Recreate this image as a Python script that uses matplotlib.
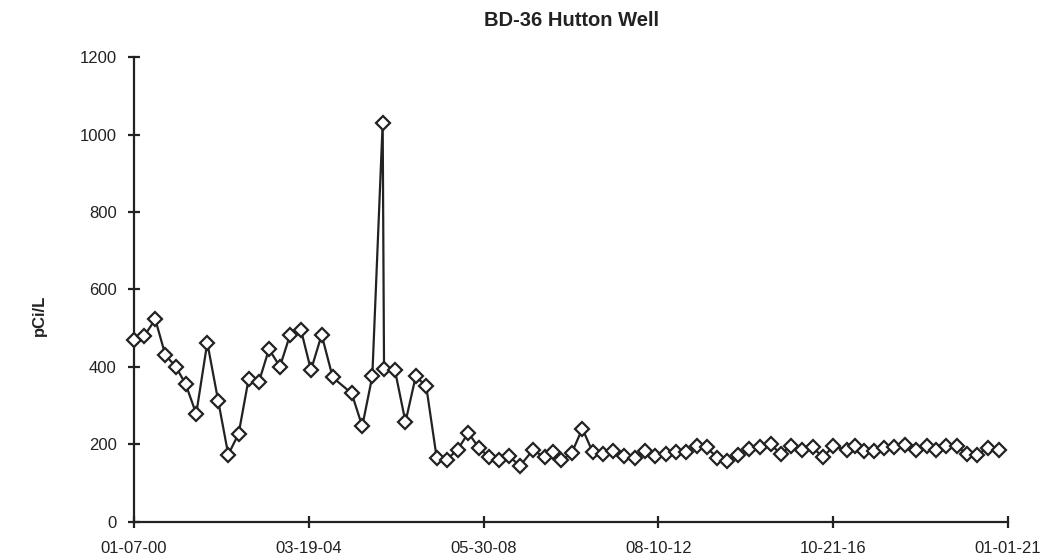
import numpy as np
import pandas as pd
import matplotlib
matplotlib.use("Agg")
import matplotlib.pyplot as plt
import matplotlib.dates as mdates

plt.rcParams['font.family'] = ['Liberation Sans', 'DejaVu Sans']

# sample dates and activity in pCi/L
dates = [
    "2000-01-07", "2000-04-06", "2000-07-12", "2000-10-08", "2001-01-07",
    "2001-04-04", "2001-07-06", "2001-10-11", "2002-01-15", "2002-04-13",
    "2002-07-13", "2002-10-09", "2003-01-07", "2003-04-05", "2003-07-10",
    "2003-10-06", "2004-01-11", "2004-04-07", "2004-07-10", "2004-10-15",
    "2005-03-30", "2005-07-01", "2005-09-27", "2005-12-27", "2006-01-08",
    "2006-04-14", "2006-07-15", "2006-10-13", "2007-01-13", "2007-04-15",
    "2007-07-11", "2007-10-16", "2008-01-17", "2008-04-20", "2008-07-19",
    "2008-10-15", "2009-01-10", "2009-04-14", "2009-08-04", "2009-11-20",
    "2010-01-26", "2010-04-09", "2010-07-12", "2010-10-13", "2011-01-12",
    "2011-04-15", "2011-07-12", "2011-10-13", "2012-01-15", "2012-04-12",
    "2012-07-11", "2012-10-13", "2013-01-11", "2013-04-09", "2013-07-12",
    "2013-10-07", "2014-01-09", "2014-04-06", "2014-07-07", "2014-10-16",
    "2015-01-18", "2015-04-22", "2015-07-18", "2015-10-14", "2016-01-19",
    "2016-04-24", "2016-07-21", "2016-10-22", "2017-02-16", "2017-04-30",
    "2017-07-18", "2017-10-14", "2018-01-10", "2018-04-07", "2018-07-13",
    "2018-10-15", "2019-01-19", "2019-04-11", "2019-07-07", "2019-10-09",
    "2020-01-05", "2020-04-07", "2020-07-07", "2020-10-12",
]
values = [
    469, 480, 523, 431, 401, 356, 279, 463, 312, 174,
    228, 370, 362, 446, 401, 482, 495, 392, 483, 373,
    332, 247, 376, 1030, 394, 391, 258, 376, 350, 165,
    161, 187, 230, 191, 167, 161, 169, 145, 185, 167,
    180, 159, 178, 241, 180, 176, 184, 171, 165, 182,
    171, 176, 180, 180, 195, 193, 165, 158, 172, 188,
    193, 200, 176, 195, 185, 193, 167, 195, 187, 195,
    182, 184, 191, 193, 199, 185, 197, 187, 197, 195,
    176, 174, 191, 187,
]

title = "BD-36 Hutton Well"
ylabel = "pCi/L"
x_start = "2000-01-07"
x_end = "2021-01-01"
tick_step_days = 1533

t = pd.to_datetime(dates)
x0 = pd.Timestamp(x_start)
x1 = pd.Timestamp(x_end)
xticks = [x0 + pd.Timedelta(days=tick_step_days * k) for k in range(6)]

fig = plt.figure(figsize=(10.54, 5.6), dpi=100)
ax = fig.add_axes([0.1271, 0.0679, 0.8293, 0.8303])

ax.plot(t, values, color="#222222", lw=1.6, marker="D", ms=7.5,
        mfc="white", mec="#222222", mew=1.6, clip_on=False, zorder=3)

ax.set_xlim(x0, x1)
ax.set_ylim(0, 1200)
ax.set_yticks(np.arange(0, 1201, 200))
ax.set_xticks(xticks)
ax.xaxis.set_major_formatter(mdates.DateFormatter("%m-%d-%y"))

for s in ["top", "right"]:
    ax.spines[s].set_visible(False)
for s in ["left", "bottom"]:
    ax.spines[s].set_linewidth(1.6)
    ax.spines[s].set_color("#222222")

ax.tick_params(direction="inout", length=9, width=1.6, color="#222222",
               labelsize=12, labelcolor="#222222")
ax.tick_params(axis="x", pad=9)
ax.tick_params(axis="y", pad=8)

ax.set_title(title, fontsize=14.5, fontweight="bold", color="#222222", pad=22)
ax.set_ylabel(ylabel, fontsize=12, fontweight="bold", color="#222222")
ax.yaxis.set_label_coords(-0.1, 0.445)

fig.savefig("out.png", dpi=100)
